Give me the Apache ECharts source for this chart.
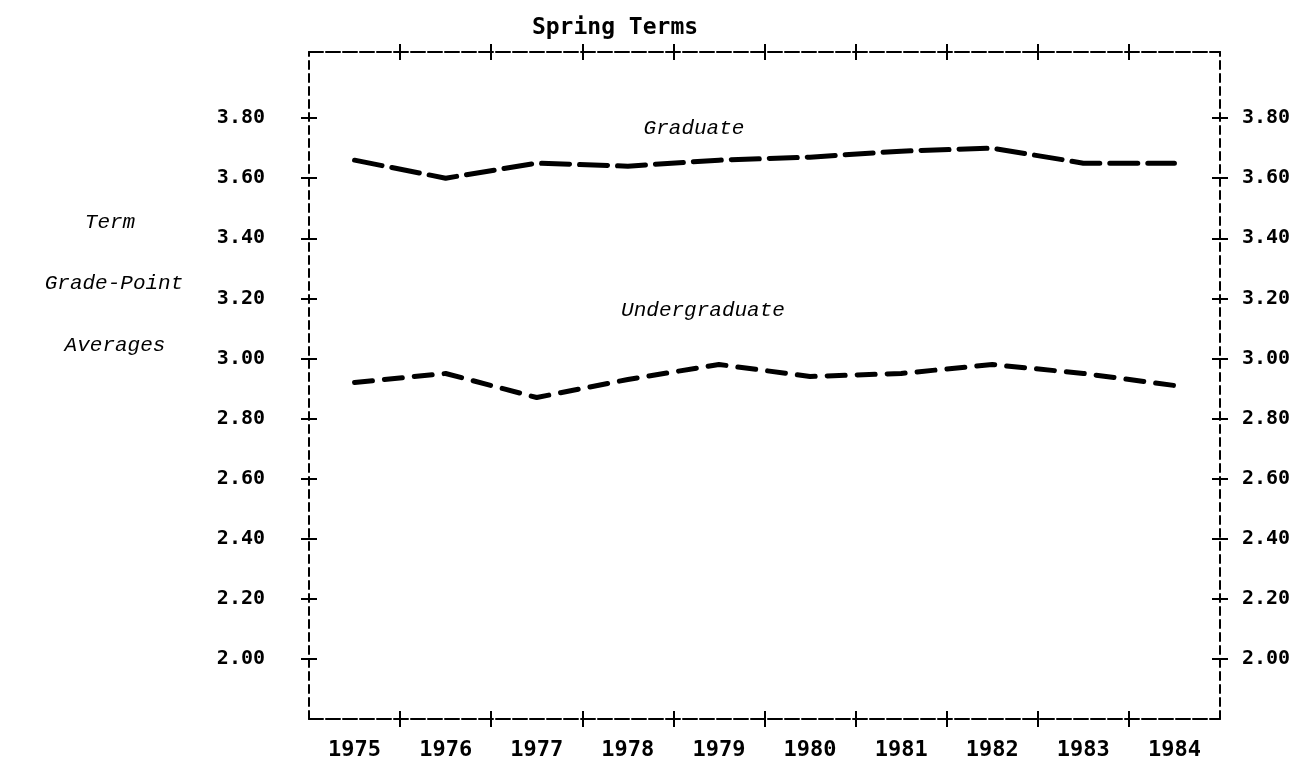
<!DOCTYPE html>
<html>
<head>
<meta charset="utf-8">
<script src="https://cdn.jsdelivr.net/npm/echarts@6/dist/echarts.min.js"></script>
<style>
    html, body {margin: 0; padding: 0; background: #fff;}
    #chart {width: 1313px; height: 761px;}
</style>
</head>
<body>
<div id="chart"></div>
<script>
// spring terms, term GPA by year
const years = ['1975', '1976', '1977', '1978', '1979', '1980', '1981', '1982', '1983', '1984'];
const graduate = [3.66, 3.60, 3.65, 3.64, 3.66, 3.67, 3.69, 3.70, 3.65, 3.65];
const undergraduate = [2.92, 2.95, 2.87, 2.93, 2.98, 2.94, 2.95, 2.98, 2.95, 2.91];
const gpaTicks = [2.0, 2.2, 2.4, 2.6, 2.8, 3.0, 3.2, 3.4, 3.6, 3.8];
// band boundaries between the years (category index units)
const yearTicks = [1, 2, 3, 4, 5, 6, 7, 8, 9];

const mono = 'DejaVu Sans Mono';

const frameH = {color: '#000', width: 2, type: [14, 3]};
const frameV = {color: '#000', width: 2, type: [8, 5]};
const tickStyle = {color: '#000', width: 2};

function yAxisFor(position, withLine, inside, withLabels) {
    return {
        type: 'value',
        position: position,
        min: 1.8,
        max: 4.02,
        interval: 0.2,
        splitLine: {show: false},
        axisLine: {show: withLine, onZero: false, lineStyle: frameV},
        axisTick: {show: true, inside: inside, length: 8, lineStyle: tickStyle, customValues: gpaTicks},
        axisLabel: {
            show: withLabels,
            customValues: gpaTicks,
            formatter: v => v.toFixed(2),
            fontFamily: mono,
            fontWeight: 'bold',
            fontSize: 20,
            color: '#000',
            margin: position === 'left' ? 44 : 22
        }
    };
}

// plain value axes just for the "+" ticks on top and bottom
function xTickAxis(position, withLine, inside) {
    return {
        type: 'value',
        position: position,
        min: 0,
        max: 10,
        interval: 1,
        splitLine: {show: false},
        axisLine: {show: withLine, onZero: false, lineStyle: frameH},
        axisTick: {show: true, inside: inside, length: 8, lineStyle: tickStyle, customValues: yearTicks},
        axisLabel: {show: false}
    };
}

const italic = 'italic 21px "Liberation Mono"';

const option = {
    backgroundColor: '#fff',
    animation: false,
    grid: {left: 309, right: 93, top: 52, bottom: 41},
    xAxis: [
        {
            type: 'category',
            position: 'bottom',
            data: years,
            boundaryGap: true,
            axisLine: {show: true, onZero: false, lineStyle: frameH},
            axisTick: {show: false},
            axisLabel: {fontFamily: mono, fontWeight: 'bold', fontSize: 22, color: '#000', margin: 20}
        },
        xTickAxis('bottom', false, false),
        xTickAxis('bottom', false, true),
        xTickAxis('top', true, false),
        xTickAxis('top', false, true)
    ],
    yAxis: [
        yAxisFor('left', true, false, true),
        yAxisFor('left', false, true, false),
        yAxisFor('right', true, false, true),
        yAxisFor('right', false, true, false)
    ],
    graphic: [
        {type: 'text', x: 615, y: 28, style: {text: 'Spring Terms', font: 'bold 23px "DejaVu Sans Mono"', fill: '#000', align: 'center', verticalAlign: 'middle'}},
        {type: 'text', x: 110, y: 222, style: {text: 'Term', font: italic, fill: '#000', align: 'center', verticalAlign: 'middle'}},
        {type: 'text', x: 114, y: 283, style: {text: 'Grade-Point', font: italic, fill: '#000', align: 'center', verticalAlign: 'middle'}},
        {type: 'text', x: 115, y: 345, style: {text: 'Averages', font: italic, fill: '#000', align: 'center', verticalAlign: 'middle'}},
        {type: 'text', x: 694, y: 128, style: {text: 'Graduate', font: italic, fill: '#000', align: 'center', verticalAlign: 'middle'}},
        {type: 'text', x: 703, y: 310, style: {text: 'Undergraduate', font: italic, fill: '#000', align: 'center', verticalAlign: 'middle'}}
    ],
    series: [
        {
            name: 'Graduate',
            type: 'line',
            data: graduate,
            symbol: 'none',
            lineStyle: {color: '#000', width: 5, type: [28, 10], cap: 'round'}
        },
        {
            name: 'Undergraduate',
            type: 'line',
            data: undergraduate,
            symbol: 'none',
            lineStyle: {color: '#000', width: 5, type: [18, 12], cap: 'round'}
        }
    ]
};

const myChart = echarts.init(document.getElementById('chart'));
myChart.setOption(option);
</script>
</body>
</html>
